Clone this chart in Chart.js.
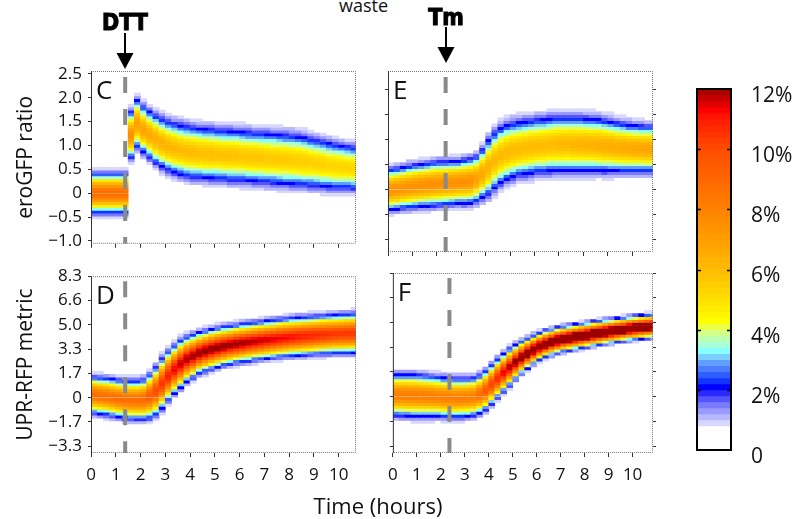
<!DOCTYPE html>
<html lang="en">
<head>
<meta charset="UTF-8" />
<title>eroGFP ratio / UPR-RFP metric density over time</title>
<style>
  body { margin: 0; background: #fff; }
  #wrap { position: relative; width: 793px; height: 519px; overflow: hidden; font-family: "Open Sans", sans-serif; color: #111; }
  #wrap canvas { position: absolute; }
  .txt { position: absolute; white-space: nowrap; }
</style>
</head>
<body>
<div id="wrap">
  <div class="txt" style="left:339px; top:-4px; font-size:18px; line-height:18px;">waste</div>
  <canvas id="panelC" width="360" height="260" style="left:0; top:0;"></canvas>
  <canvas id="panelD" width="360" height="259" style="left:0; top:260px;"></canvas>
  <canvas id="panelE" width="280" height="260" style="left:380px; top:0;"></canvas>
  <canvas id="panelF" width="280" height="259" style="left:380px; top:260px;"></canvas>
  <canvas id="cbar" width="133" height="420" style="left:660px; top:60px;"></canvas>
  <div class="txt" style="left:278px; top:494px; width:200px; text-align:center; font-size:22px; line-height:22px;">Time (hours)</div>
</div>

<script src="https://cdn.jsdelivr.net/npm/chart.js"></script>
<script>
  // time columns (h), centre of each 15 min bin
  const times = [0.125, 0.375, 0.625, 0.875, 1.125, 1.375, 1.625, 1.875, 2.125, 2.375, 2.625, 2.875,
    3.125, 3.375, 3.625, 3.875, 4.125, 4.375, 4.625, 4.875, 5.125, 5.375, 5.625, 5.875,
    6.125, 6.375, 6.625, 6.875, 7.125, 7.375, 7.625, 7.875, 8.125, 8.375, 8.625, 8.875,
    9.125, 9.375, 9.625, 9.875, 10.125, 10.375, 10.625, 10.875];

  const dttTime = 1.38; // DTT added (h)
  const tmTime = 2.36;  // Tm added (h)

  // lo / hi = value at the blue (2%) contour, peak = % of cells in the densest bin
  // C: eroGFP ratio, DTT
  const cLo = [-0.41, -0.41, -0.41, -0.41, -0.41, -0.41, 0.75, 0.97, 0.86, 0.75, 0.64, 0.55, 0.48, 0.43, 0.39, 0.36,
    0.34, 0.33, 0.32, 0.31, 0.30, 0.29, 0.28, 0.28, 0.27, 0.26, 0.25, 0.24, 0.23, 0.22, 0.21, 0.20,
    0.19, 0.18, 0.17, 0.16, 0.15, 0.14, 0.13, 0.12, 0.11, 0.11, 0.10, 0.10];
  const cHi = [0.42, 0.42, 0.42, 0.42, 0.42, 0.42, 1.70, 1.95, 1.81, 1.71, 1.63, 1.56, 1.50, 1.46, 1.43, 1.40,
    1.38, 1.36, 1.35, 1.34, 1.33, 1.32, 1.31, 1.30, 1.29, 1.28, 1.27, 1.26, 1.25, 1.24, 1.23, 1.22,
    1.21, 1.19, 1.17, 1.14, 1.11, 1.08, 1.05, 1.02, 1.00, 0.98, 0.96, 0.95];
  const cPeak = [8.8, 8.8, 8.8, 8.8, 8.8, 8.8, 7.5, 7.0, 6.8, 6.6, 6.4, 6.3, 6.2, 6.1, 6.0, 6.0,
    6.0, 5.9, 5.9, 5.9, 5.8, 5.8, 5.8, 5.8, 5.7, 5.7, 5.7, 5.7, 5.6, 5.6, 5.6, 5.6,
    5.5, 5.5, 5.5, 5.4, 5.4, 5.4, 5.3, 5.3, 5.3, 5.3, 5.3, 5.3];

  // D: UPR-RFP metric, DTT
  const dLo = [-1.06, -1.12, -1.18, -1.26, -1.34, -1.42, -1.46, -1.48, -1.48, -1.41, -1.18, -0.75, -0.20, 0.28, 0.68, 1.10,
    1.37, 1.65, 1.80, 1.96, 2.08, 2.21, 2.31, 2.38, 2.44, 2.51, 2.58, 2.63, 2.68, 2.73, 2.78, 2.82,
    2.86, 2.89, 2.92, 2.95, 2.98, 3.00, 3.02, 3.04, 3.05, 3.06, 3.07, 3.08];
  const dHi = [1.45, 1.41, 1.36, 1.30, 1.24, 1.19, 1.18, 1.18, 1.25, 1.60, 2.10, 2.70, 3.20, 3.60, 3.95, 4.20,
    4.35, 4.50, 4.62, 4.73, 4.82, 4.89, 4.96, 5.03, 5.09, 5.14, 5.19, 5.25, 5.30, 5.35, 5.40, 5.45,
    5.49, 5.53, 5.57, 5.60, 5.63, 5.66, 5.69, 5.72, 5.74, 5.77, 5.79, 5.80];
  const dPeak = [8.8, 8.8, 8.8, 8.8, 8.8, 8.8, 8.8, 8.8, 9.0, 9.5, 10.0, 10.5, 11.0, 11.4, 11.7, 11.9,
    12.0, 12.1, 12.2, 12.2, 12.2, 12.2, 12.1, 12.1, 12.0, 11.9, 11.8, 11.7, 11.6, 11.5, 11.4, 11.3,
    11.2, 11.1, 11.0, 10.9, 10.8, 10.7, 10.6, 10.5, 10.5, 10.5, 10.5, 10.5];

  // E: eroGFP ratio, Tm
  const eLo = [-0.40, -0.39, -0.37, -0.36, -0.35, -0.34, -0.33, -0.32, -0.31, -0.30, -0.29, -0.28, -0.28, -0.27, -0.23, -0.16,
    -0.09, 0.03, 0.13, 0.20, 0.25, 0.29, 0.31, 0.33, 0.35, 0.36, 0.37, 0.38, 0.38, 0.38, 0.38, 0.38,
    0.38, 0.38, 0.38, 0.37, 0.37, 0.37, 0.37, 0.37, 0.37, 0.37, 0.37, 0.37];
  const eHi = [0.41, 0.43, 0.45, 0.48, 0.50, 0.52, 0.53, 0.55, 0.56, 0.56, 0.57, 0.58, 0.60, 0.62, 0.67, 0.80,
    0.99, 1.14, 1.24, 1.30, 1.33, 1.35, 1.37, 1.39, 1.40, 1.41, 1.43, 1.44, 1.44, 1.45, 1.44, 1.44,
    1.43, 1.42, 1.41, 1.39, 1.37, 1.34, 1.32, 1.30, 1.29, 1.28, 1.27, 1.27];
  const ePeak = [7.5, 7.5, 7.5, 7.5, 7.5, 7.5, 7.5, 7.5, 7.5, 7.5, 7.5, 7.5, 7.5, 7.5, 7.0, 6.6,
    6.3, 6.1, 6.0, 6.0, 6.0, 6.0, 6.0, 6.0, 6.0, 6.0, 6.0, 6.0, 6.1, 6.1, 6.2, 6.2,
    6.3, 6.3, 6.4, 6.4, 6.5, 6.5, 6.6, 6.6, 6.7, 6.7, 6.8, 6.8];

  // F: UPR-RFP metric, Tm
  const fLo = [-1.27, -1.29, -1.31, -1.33, -1.33, -1.33, -1.33, -1.33, -1.35, -1.36, -1.38, -1.36, -1.33, -1.29, -1.12, -0.88,
    -0.48, -0.05, 0.36, 0.76, 1.17, 1.56, 1.90, 2.20, 2.47, 2.66, 2.80, 2.93, 3.03, 3.11, 3.18, 3.26,
    3.33, 3.40, 3.47, 3.54, 3.60, 3.67, 3.73, 3.79, 3.84, 3.89, 3.93, 3.97];
  const fHi = [1.51, 1.51, 1.51, 1.51, 1.48, 1.44, 1.40, 1.35, 1.30, 1.27, 1.24, 1.24, 1.25, 1.28, 1.45, 1.75,
    2.15, 2.55, 2.92, 3.24, 3.52, 3.76, 3.97, 4.16, 4.33, 4.47, 4.59, 4.69, 4.77, 4.84, 4.90, 4.96,
    5.02, 5.09, 5.15, 5.21, 5.26, 5.31, 5.36, 5.42, 5.47, 5.51, 5.54, 5.57];
  const fPeak = [8.2, 8.2, 8.2, 8.2, 8.2, 8.2, 8.2, 8.2, 8.2, 8.2, 8.2, 8.2, 8.2, 8.2, 8.8, 9.5,
    10.2, 10.8, 11.4, 11.9, 12.4, 12.8, 13.1, 13.4, 13.6, 13.8, 14.0, 14.2, 14.3, 14.4, 14.5, 14.5,
    14.5, 14.5, 14.5, 14.5, 14.5, 14.5, 14.5, 14.5, 14.5, 14.5, 14.5, 14.5];

  // axis ticks
  const timeTicks = [0, 1, 2, 3, 4, 5, 6, 7, 8, 9, 10];
  const timeTickLabels = ["0", "1", "2", "3", "4", "5", "6", "7", "8", "9", "10"];
  const ratioTicks = [-1.0, -0.5, 0, 0.5, 1.0, 1.5, 2.0, 2.5];
  const ratioTickLabels = ["\u22121.0", "\u22120.5", "0", "0.5", "1.0", "1.5", "2.0", "2.5"];
  const ratioTicksE = [-1.0, -0.5, 0, 0.5, 1.0, 1.5, 2.0];
  const rfpTicks = [-3.333, -1.667, 0, 1.667, 3.333, 5.0, 6.667, 8.333];
  const rfpTickLabels = ["\u22123.3", "\u22121.7", "0", "1.7", "3.3", "5.0", "6.6", "8.3"];
  const cbarTicks = [0, 2, 4, 6, 8, 10, 12];
  const cbarTickLabels = ["0", "2%", "4%", "6%", "8%", "10%", "12%"];

  // colour map (value in %, colour)
  const cmap = [
    [0.83, "#d8d8ff"], [1.05, "#b8b8ff"], [1.25, "#9a9aff"], [1.45, "#7a7aff"],
    [1.65, "#5555ff"], [1.85, "#2a2aff"], [2.0, "#0000ff"], [2.2, "#1234ff"],
    [2.4, "#2d5cff"], [2.6, "#4a7dff"], [2.8, "#609eff"], [3.0, "#7cd0ff"],
    [3.15, "#88ffff"], [3.4, "#a6ffd8"], [3.6, "#baffb2"], [3.8, "#d2ff88"],
    [4.0, "#ecff44"], [4.3, "#ffff00"], [5.0, "#ffe000"], [6.0, "#ffbb00"],
    [8.0, "#ff8200"], [10.0, "#ff4c00"], [11.0, "#ff1c00"], [11.3, "#ff0000"],
    [11.5, "#e00000"], [11.75, "#c00000"], [12.0, "#9a0000"]
  ];
  const minShown = 0.83;

  function hexRgb(h) {
    return [1, 3, 5].map((i) => parseInt(h.slice(i, i + 2), 16));
  }
  function colorAt(v) {
    if (v < minShown) return "#ffffff";
    const last = cmap[cmap.length - 1];
    if (v >= last[0]) return last[1];
    let i = 0;
    while (cmap[i + 1][0] <= v) i++;
    if (v < 4.3) return cmap[i][1];
    const a = hexRgb(cmap[i][1]), b = hexRgb(cmap[i + 1][1]);
    const f = (v - cmap[i][0]) / (cmap[i + 1][0] - cmap[i][0]);
    const c = a.map((x, k) => Math.round(x + (b[k] - x) * f));
    return "rgb(" + c.join(",") + ")";
  }

  // one floating bar per (time, y-bin) cell
  function cells(lo, hi, peak, yMin, yMax, bin) {
    const pts = [], cols = [];
    const start = Math.floor(yMin / bin) * bin;
    const n = Math.ceil((yMax - start) / bin);
    for (let j = 0; j < times.length; j++) {
      const mid = (lo[j] + hi[j]) / 2, hw = (hi[j] - lo[j]) / 2;
      const s = hw / Math.sqrt(2 * Math.log(peak[j] / 2));
      for (let i = 0; i < n; i++) {
        const y0 = start + i * bin;
        const yc = y0 + bin / 2;
        const v = peak[j] * Math.exp(-((yc - mid) ** 2) / (2 * s * s));
        if (v < minShown) continue;
        pts.push({ x: times[j], y: [y0, y0 + bin] });
        cols.push(colorAt(v));
      }
    }
    return { pts, cols };
  }

  Chart.defaults.font.family = '"Open Sans", sans-serif';
  Chart.defaults.color = "#111";

  const panelDeco = {
    id: "panelDeco",
    afterDraw(chart, args, o) {
      const { ctx, chartArea: a } = chart;
      ctx.save();
      ctx.lineWidth = 1;
      ctx.strokeStyle = "#777";
      ctx.setLineDash([1, 1]);
      ctx.beginPath();
      ctx.moveTo(a.left, a.top + 0.5);
      ctx.lineTo(a.right - 0.5, a.top + 0.5);
      ctx.lineTo(a.right - 0.5, a.bottom - 0.5);
      ctx.lineTo(a.left, a.bottom - 0.5);
      ctx.stroke();
      ctx.setLineDash([]);
      ctx.strokeStyle = "#333";
      ctx.beginPath();
      ctx.moveTo(a.left + 0.5, a.top);
      ctx.lineTo(a.left + 0.5, a.bottom);
      ctx.stroke();

      ctx.fillStyle = "#111";
      ctx.font = '26px "Open Sans", sans-serif';
      ctx.textAlign = "left";
      ctx.textBaseline = "alphabetic";
      ctx.fillText(o.letter, a.left + 5, a.top + 28);

      if (o.arrow) {
        const x = Math.round(chart.scales.x.getPixelForValue(o.arrow.at));
        ctx.fillStyle = "#000";
        ctx.strokeStyle = "#000";
        ctx.font = 'bold 23px "DejaVu Sans Condensed", "Liberation Sans Narrow", "DejaVu Sans", sans-serif';
        ctx.textAlign = "center";
        ctx.lineWidth = 1;
        ctx.fillText(o.arrow.label, x, o.arrow.base);
        ctx.strokeText(o.arrow.label, x, o.arrow.base);
        ctx.lineWidth = 2;
        ctx.beginPath();
        ctx.moveTo(x, o.arrow.top);
        ctx.lineTo(x, o.arrow.head);
        ctx.stroke();
        ctx.beginPath();
        ctx.moveTo(x - 8.5, o.arrow.head);
        ctx.lineTo(x + 8.5, o.arrow.head);
        ctx.lineTo(x, o.arrow.tip);
        ctx.closePath();
        ctx.fill();
      }
      ctx.restore();
    },
  };

  function yAxis(p) {
    return {
      type: "linear",
      position: p.pos || "left",
      min: p.min,
      max: p.max,
      afterBuildTicks: (s) => { s.ticks = p.ticks.map((v) => ({ value: v })); },
      afterFit: (s) => { s.width = p.width; },
      grid: { drawOnChartArea: false, drawTicks: true, tickLength: 3, color: "#333" },
      border: { display: false },
      ticks: {
        display: !!p.labels,
        padding: 6,
        font: { size: 17 },
        callback: (v, i) => (p.labels ? p.labels[i] : ""),
      },
      title: p.title
        ? { display: true, text: p.title, font: { size: 21 }, padding: { top: 13, bottom: 0 }, color: "#111" }
        : { display: false },
    };
  }

  function panel(id, p) {
    const hm = cells(p.lo, p.hi, p.peak, p.yMin, p.yMax, p.bin);
    const scales = {
      x: {
        type: "linear",
        min: 0,
        max: p.xMax,
        offset: false,
        afterBuildTicks: (s) => { s.ticks = timeTicks.map((v) => ({ value: v })); },
        afterFit: (s) => { s.height = p.xHeight; },
        grid: { drawOnChartArea: false, drawTicks: true, tickLength: 4, color: "#333", offset: false },
        border: { display: false },
        ticks: {
          display: p.xLabels,
          padding: 8,
          maxRotation: 0,
          autoSkip: false,
          font: { size: 17 },
          callback: (v, i) => timeTickLabels[i],
        },
      },
      y: yAxis({ min: p.yMin, max: p.yMax, ticks: p.yTicks, labels: p.yLabels, title: p.yTitle, width: p.yWidth }),
    };
    if (p.rightAxis) {
      scales.y2 = yAxis({ pos: "right", min: p.yMin, max: p.yMax, ticks: p.yTicks, width: 7 });
    }
    return new Chart(document.getElementById(id), {
      type: "bar",
      data: {
        datasets: [
          {
            type: "line",
            data: [{ x: p.treat, y: p.yMax }, { x: p.treat, y: p.yMin }],
            yAxisID: "y",
            borderColor: "#8a8a8a",
            borderWidth: 4,
            borderDash: [16, 16],
            borderDashOffset: p.dashOffset,
            pointRadius: 0,
            fill: false,
            order: 0,
          },
          {
            data: hm.pts,
            yAxisID: "y",
            backgroundColor: hm.cols,
            borderWidth: 0,
            barPercentage: 1,
            categoryPercentage: 1,
            clip: 0,
            order: 1,
          },
        ],
      },
      options: {
        responsive: false,
        animation: false,
        events: [],
        layout: { padding: p.padding },
        plugins: {
          legend: { display: false },
          tooltip: { enabled: false },
          panelDeco: { letter: p.letter, arrow: p.arrow },
        },
        scales,
      },
      plugins: [panelDeco],
    });
  }

  panel("panelC", {
    lo: cLo, hi: cHi, peak: cPeak, yMin: -1.06, yMax: 2.56, bin: 0.06,
    xMax: 10.7, treat: dttTime, dashOffset: 26,
    yTicks: ratioTicks, yLabels: ratioTickLabels, yTitle: "eroGFP ratio", yWidth: 91,
    xHeight: 8, xLabels: false, padding: { top: 71, right: 4, left: 0, bottom: 0 },
    letter: "C", arrow: { label: "DTT", at: dttTime, base: 30, top: 33, head: 53, tip: 69 },
  });
  panel("panelD", {
    lo: dLo, hi: dHi, peak: dPeak, yMin: -3.8, yMax: 8.34, bin: 0.2,
    xMax: 10.7, treat: dttTime, dashOffset: 27,
    yTicks: rfpTicks, yLabels: rfpTickLabels, yTitle: "UPR-RFP metric", yWidth: 91,
    xHeight: 66, xLabels: true, padding: { top: 13, right: 4, left: 0, bottom: 0 },
    letter: "D",
  });
  panel("panelE", {
    lo: eLo, hi: eHi, peak: ePeak, yMin: -1.246, yMax: 2.374, bin: 0.06,
    xMax: 10.85, treat: tmTime, dashOffset: 26,
    yTicks: ratioTicksE, yWidth: 8, rightAxis: true,
    xHeight: 8, xLabels: false, padding: { top: 71, right: 0, left: 0, bottom: 0 },
    letter: "E", arrow: { label: "Tm", at: tmTime, base: 25, top: 27, head: 47, tip: 63 },
  });
  panel("panelF", {
    lo: fLo, hi: fHi, peak: fPeak, yMin: -3.8, yMax: 8.34, bin: 0.2,
    xMax: 10.85, treat: tmTime, dashOffset: 27,
    yTicks: rfpTicks, yWidth: 8, rightAxis: true,
    xHeight: 66, xLabels: true, padding: { top: 13, right: 0, left: 0, bottom: 0 },
    letter: "F",
  });

  // colour bar: stacked 0.2% steps
  const cbarPts = [], cbarCols = [];
  for (let k = 0; k < 60; k++) {
    cbarPts.push({ x: "cb", y: [k * 0.2, k * 0.2 + 0.2] });
    cbarCols.push(colorAt(k * 0.2 + 0.1));
  }
  const barFrame = {
    id: "barFrame",
    afterDraw(chart) {
      const { ctx, chartArea: a } = chart;
      const ys = chart.scales.y;
      ctx.save();
      ctx.strokeStyle = "#000";
      ctx.lineWidth = 2;
      ctx.strokeRect(a.left, a.top, a.right - a.left, a.bottom - a.top);
      ctx.lineWidth = 1.5;
      ctx.beginPath();
      cbarTicks.slice(1, -1).forEach((v) => {
        const y = Math.round(ys.getPixelForValue(v)) + 0.5;
        ctx.moveTo(a.left, y); ctx.lineTo(a.left + 4, y);
        ctx.moveTo(a.right - 4, y); ctx.lineTo(a.right, y);
      });
      ctx.stroke();
      ctx.restore();
    },
  };
  new Chart(document.getElementById("cbar"), {
    type: "bar",
    data: {
      labels: ["cb"],
      datasets: [{ data: cbarPts, backgroundColor: cbarCols, borderWidth: 0, barPercentage: 1, categoryPercentage: 1 }],
    },
    options: {
      responsive: false,
      animation: false,
      events: [],
      layout: { padding: { left: 37, top: 29, bottom: 30, right: 0 } },
      plugins: { legend: { display: false }, tooltip: { enabled: false } },
      scales: {
        x: { type: "category", display: false },
        y: {
          position: "right",
          min: 0,
          max: 12,
          afterBuildTicks: (s) => { s.ticks = cbarTicks.map((v) => ({ value: v })); },
          afterFit: (s) => { s.width = 62; },
          grid: { display: false },
          border: { display: false },
          ticks: { padding: 12, labelOffset: 7, font: { size: 21 }, callback: (v, i) => cbarTickLabels[i] },
        },
      },
    },
    plugins: [barFrame],
  });
</script>
</body>
</html>
